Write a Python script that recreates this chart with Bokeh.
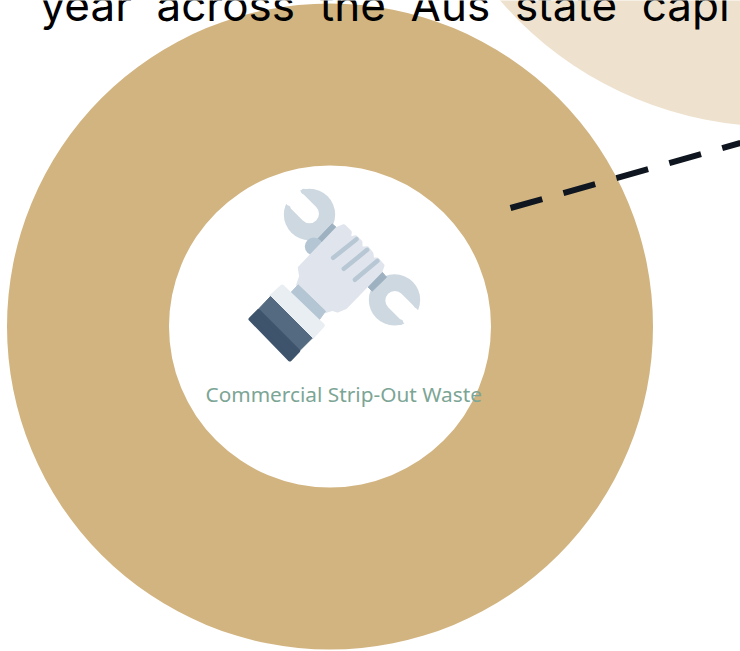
import math

from bokeh.core.properties import value
from bokeh.embed import file_html
from bokeh.models import ColumnDataSource, Range1d
from bokeh.plotting import figure
from bokeh.resources import INLINE

# Chart content
title_text = "year\u00a0\u00a0across\u00a0\u00a0the\u00a0\u00a0Aus\u00a0\u00a0state\u00a0\u00a0capi"
category_label = "Commercial Strip-Out Waste"
categories = ["Commercial Strip-Out Waste"]
shares = [100.0]
ring_colors = ["#D2B480"]

W, H = 740, 651
p = figure(width=W, height=H, output_backend="svg", toolbar_location=None,
           x_range=Range1d(0, W), y_range=Range1d(H, 0),
           min_border=0, outline_line_color=None, background_fill_color="white",
           border_fill_color="white")
p.axis.visible = False
p.grid.visible = False

# Pale neighbouring ring, mostly off the page
p.circle(x=[775], y=[-238], radius=364, fill_color="#EEE2CF", line_color=None)

# The single-category doughnut
total = sum(shares)
ends = []
run = 0.0
for s in shares:
    run += s
    ends.append(run / total * 2 * math.pi)
starts = [0.0] + ends[:-1]
ring = ColumnDataSource(dict(start=starts, end=ends, color=ring_colors, name=categories))
p.annulus(x=329.5, y=326, inner_radius=161, outer_radius=323, source=ring,
          fill_color="color", line_color=None)

# Leader line running off to the right
p.line([510, 740], [207.5, 142.5], line_color="#0F1620", line_width=6, line_dash="33 22")


# Wrench-and-hand icon, laid out on a 3x grid and scaled down here
def ix(v):
    return [230 + a / 3 for a in v]


def iy(v):
    return [170 + a / 3 for a in v]


def shape(xs, ys, color, edge=1):
    p.patch(ix(xs), iy(ys), fill_color=color, line_color=color, line_width=edge, line_join="round")


def stroke(xs, ys, color, width):
    p.line(ix(xs), iy(ys), line_color=color, line_width=width, line_cap="round")


WRENCH = "#CDD8E1"
SHAFT = "#9DB1C1"
HAND = "#E0E5ED"
CREASE = "#B7C7D4"
CUFF = "#E9EEF2"
SLEEVE = "#546A80"
SLEEVE_DARK = "#3E536C"

# Wrench heads with their open jaws
p.circle(ix([237, 492]), iy([132, 388]), radius=77 / 3, fill_color=WRENCH, line_color=None)
stroke([237, 165], [130, 58], "white", 19)
stroke([493, 566], [390, 463], "white", 19)
# Jaw tips
p.circle(ix([172, 220, 510, 558]), iy([113, 63, 455, 404]), radius=8 / 3,
         fill_color=WRENCH, line_color=None)
# Shafts and thumb
shape([262, 305, 322, 280], [205, 160, 175, 218], SHAFT)
shape([408, 455, 468, 425], [345, 305, 320, 362], SHAFT)
p.circle(ix([250]), iy([228]), radius=27 / 3, fill_color="#B4C5D3", line_color=None)
# Hand
shape([208, 320, 340, 358, 355, 375, 390, 390, 410, 423, 425, 440, 456, 450, 345, 322, 305, 285, 203, 212, 208],
      [292, 175, 167, 185, 205, 200, 215, 235, 233, 250, 268, 267, 285, 302, 410, 420, 415, 422, 343, 318, 292],
      HAND, 4)
stroke([308, 378], [262, 206], CREASE, 4.5)
stroke([340, 410], [295, 238], CREASE, 4.5)
stroke([373, 441], [328, 271], CREASE, 4.5)
# Wrist, cuff and sleeve
shape([182, 203, 285, 265], [365, 343, 422, 450], "#B4C5D3")
shape([122, 155, 277, 245], [378, 348, 465, 500], CUFF, 4)
shape([120, 245, 205, 82], [378, 503, 543, 418], SLEEVE)
shape([84, 203, 178, 60], [422, 541, 567, 446], SLEEVE_DARK, 4)

# Texts
p.text(x=[40], y=[4], text=[title_text], text_font=value("Inter"), text_font_size="44px",
       text_color="black", text_baseline="alphabetic", text_align="left")
p.text(x=[205], y=[393], text=[category_label], text_font=value("Noto Sans"), text_font_size="20.8px",
       text_color="#7CA595", text_baseline="alphabetic", text_align="left")

open("out.html", "w").write(file_html(p, INLINE))
